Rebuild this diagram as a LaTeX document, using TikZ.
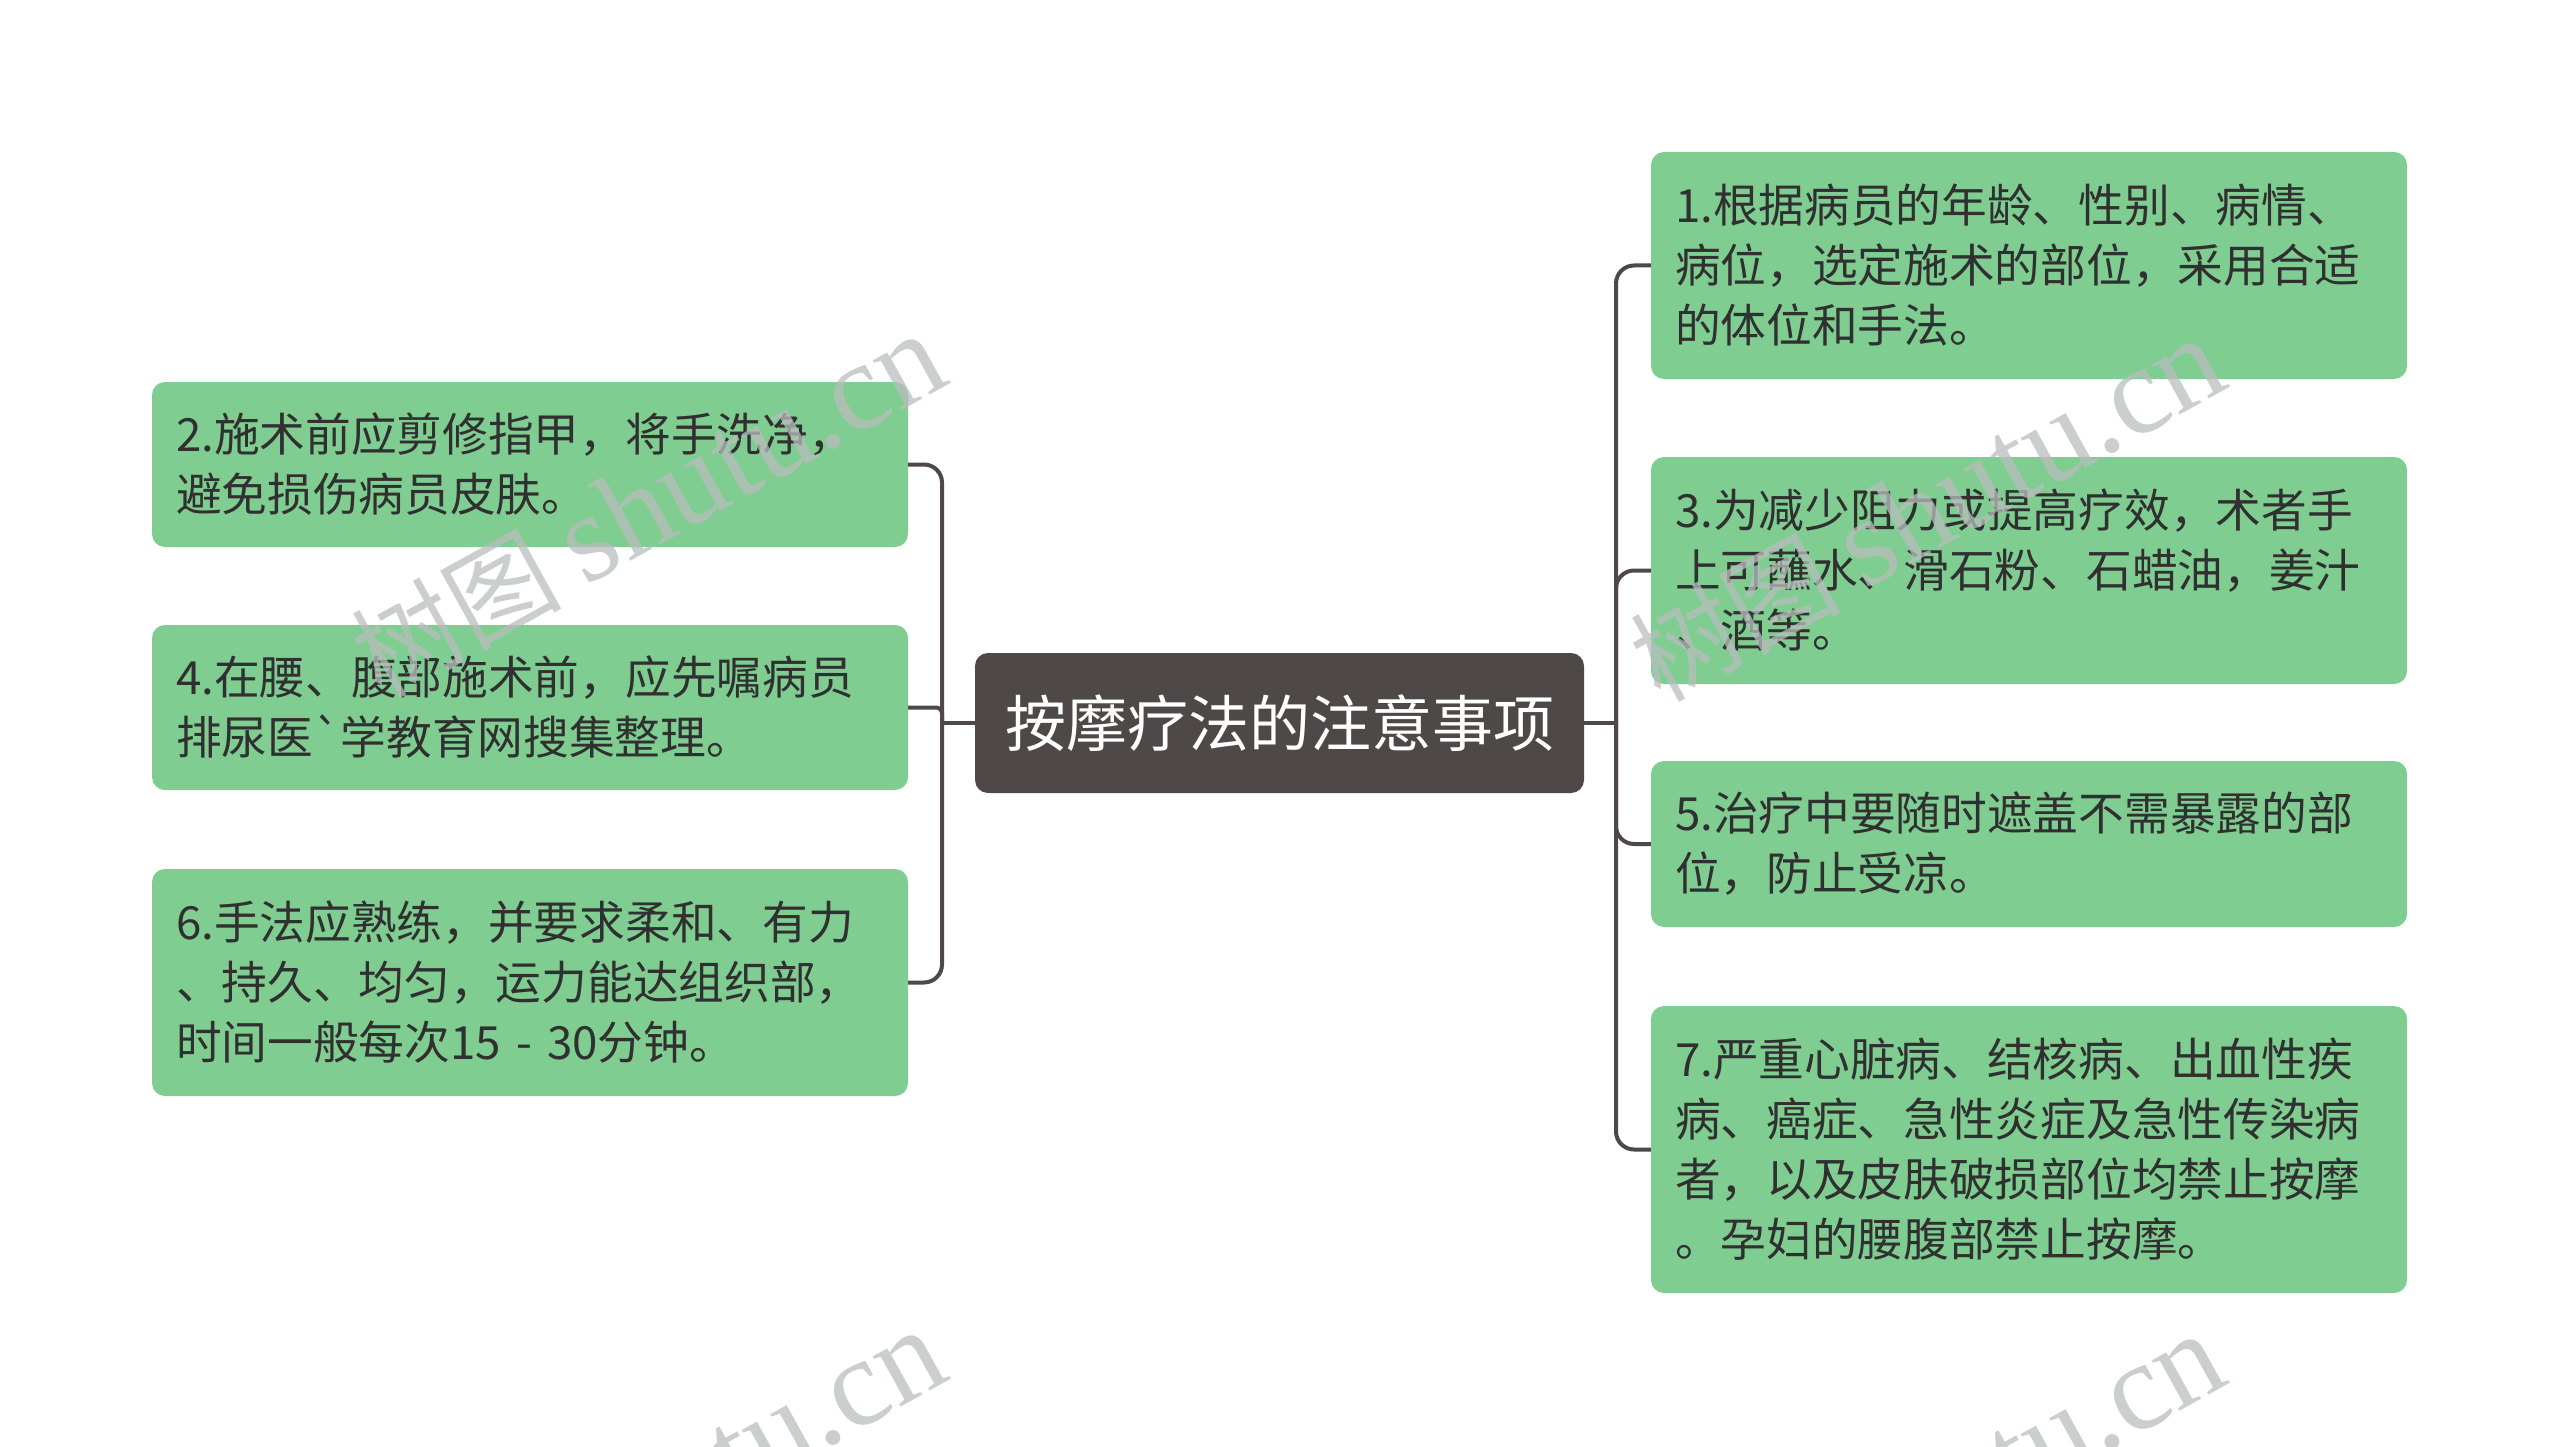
\documentclass[tikz,border=0pt]{standalone}
\usepackage{fontspec}
\setmainfont{Noto Sans CJK SC}[Ligatures=TeXOff]
\newfontfamily\wmserif{Liberation Serif}
\definecolor{leafgreen}{RGB}{127,205,145}
\definecolor{rootfill}{RGB}{78,72,72}
\definecolor{txt}{RGB}{48,48,48}
\definecolor{linec}{RGB}{78,72,72}
\definecolor{wmgray}{RGB}{185,190,190}
\tikzset{
  leaf/.style={fill=leafgreen, rounded corners=13pt, text width=708pt, inner xsep=24pt,
    inner ysep=0pt, align=left, font=\fontsize{45.7}{60}\selectfont, text=txt, anchor=center},
  root/.style={fill=rootfill, rounded corners=13pt, minimum width=609pt, minimum height=140pt,
    inner sep=0pt, font=\fontsize{61}{61}\selectfont, text=white, anchor=center},
  conn/.style={draw=linec, line width=4pt, rounded corners=18pt},
  wm/.style={rotate=29, text=wmgray, text opacity=0.75, inner sep=0pt, anchor=center}
}
\begin{document}
\begin{tikzpicture}[x=1pt,y=-1pt]
\useasboundingbox[fill=white] (0,0) rectangle (2560,1447);
% root
\node[root] (c) at (1279.5,723) {按摩疗法的注意事项};
% left
\node[leaf, minimum height=165pt] (b2) at (530,464.5) {2.施术前应剪修指甲，将手洗净，\\避免损伤病员皮肤。};
\node[leaf, minimum height=165pt] (b4) at (530,707.5) {4.在腰、腹部施术前，应先嘱病员\\排尿医`学教育网搜集整理。};
\node[leaf, minimum height=227pt] (b6) at (530,982.5) {6.手法应熟练，并要求柔和、有力\\、持久、均匀，运力能达组织部，\\时间一般每次15 - 30分钟。};
% right
\node[leaf, minimum height=227pt] (b1) at (2029,265.5) {1.根据病员的年龄、性别、病情、\\病位，选定施术的部位，采用合适\\的体位和手法。};
\node[leaf, minimum height=227pt] (b3) at (2029,570.5) {3.为减少阻力或提高疗效，术者手\\上可蘸水、滑石粉、石蜡油，姜汁\\、酒等。};
\node[leaf, minimum height=166pt] (b5) at (2029,844) {5.治疗中要随时遮盖不需暴露的部\\位，防止受凉。};
\node[leaf, minimum height=287pt] (b7) at (2029,1149.5) {7.严重心脏病、结核病、出血性疾\\病、癌症、急性炎症及急性传染病\\者，以及皮肤破损部位均禁止按摩\\。孕妇的腰腹部禁止按摩。};
% connectors
\coordinate (lj) at (942,723);
\coordinate (rj) at (1616,723);
\draw[conn] (c.west) -- (lj);
\draw[conn] (c.east) -- (rj);
\draw[conn] (lj) |- (b2.east);
\draw[conn] (lj) |- (b6.east);
\draw[conn, rounded corners=6pt] (lj) |- (b4.east);
\draw[conn] (rj) |- (b1.west);
\draw[conn] (rj) |- (b3.west);
\draw[conn] (rj) |- (b5.west);
\draw[conn] (rj) |- (b7.west);
% watermarks
\node[wm] (w1) at (648,506) {\fontsize{105}{105}\selectfont 树图 {\wmserif\fontsize{125}{125}\selectfont shutu.cn}};
\node[wm] (w2) at (1927,510) {\fontsize{105}{105}\selectfont 树图 {\wmserif\fontsize{125}{125}\selectfont shutu.cn}};
\node[wm] (w3) at (648,1502) {\fontsize{105}{105}\selectfont 树图 {\wmserif\fontsize{125}{125}\selectfont shutu.cn}};
\node[wm] (w4) at (1927,1506) {\fontsize{105}{105}\selectfont 树图 {\wmserif\fontsize{125}{125}\selectfont shutu.cn}};
\end{tikzpicture}
\end{document}
